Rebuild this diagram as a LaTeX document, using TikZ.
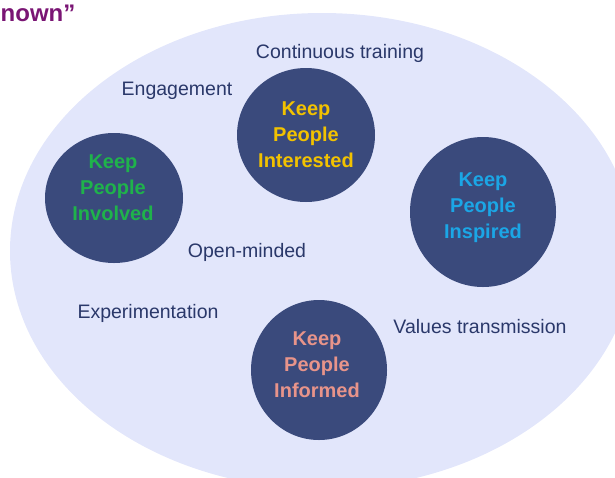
\documentclass[tikz,border=0pt]{standalone}
\usepackage{fontspec}
\setmainfont{Liberation Sans}
\usetikzlibrary{shapes.geometric}

\definecolor{fieldfill}{HTML}{E2E6FB}
\definecolor{bubblefill}{HTML}{3A4A7C}
\definecolor{labelink}{HTML}{2A386A}
\definecolor{titleink}{HTML}{7A1574}
\definecolor{greenink}{HTML}{1FB34B}
\definecolor{goldink}{HTML}{F2C200}
\definecolor{skyink}{HTML}{1BA6E6}
\definecolor{salmonink}{HTML}{E8948A}

\begin{document}
\begin{tikzpicture}[x=1pt,y=-1pt,
  field/.style={ellipse, fill=fieldfill, inner sep=0pt,
    minimum width=624pt, minimum height=476pt},
  bubble/.style={ellipse, fill=bubblefill, inner sep=0pt},
  bubbletext/.style={align=center, inner sep=0pt,
    font=\fontsize{20}{26}\selectfont\bfseries},
  tag/.style={anchor=base, inner sep=0pt, text=labelink,
    font=\fontsize{19.5}{23}\selectfont},
  title/.style={anchor=base west, inner sep=0pt, text=titleink,
    font=\fontsize{24}{28}\selectfont\bfseries}]
\useasboundingbox (0,0) rectangle (615,477);
\clip (0,0) rectangle (615,477);

% heading fragment in the top corner
\node[title] (heading) at (0.5,21) {nown”};

% large background field
\node[field] (field) at (322,251) {};

% the four bubbles
\node[bubble, minimum width=138pt, minimum height=130pt] (involved) at (114,198) {};
\node[bubble, minimum width=138pt, minimum height=134pt] (interested) at (306,135) {};
\node[bubble, minimum width=146pt, minimum height=150pt] (inspired) at (483,212) {};
\node[bubble, minimum width=136pt, minimum height=140pt] (informed) at (319,370) {};

% bubble captions
\node[bubbletext, text=greenink] (involvedT) at (113,187.5) {Keep\\People\\Involved};
\node[bubbletext, text=goldink] (interestedT) at (306,134.5) {Keep\\People\\Interested};
\node[bubbletext, text=skyink] (inspiredT) at (483,207.6) {Keep\\People\\Inspired};
\node[bubbletext, text=salmonink] (informedT) at (317,364.5) {Keep\\People\\Informed};

% free-standing keywords
\node[tag] (training) at (340,58) {Continuous training};
\node[tag] (engagement) at (177,95) {Engagement};
\node[tag] (openminded) at (247,257) {Open-minded};
\node[tag] (experiment) at (148,318) {Experimentation};
\node[tag] (values) at (480,333) {Values transmission};
\end{tikzpicture}
\end{document}
